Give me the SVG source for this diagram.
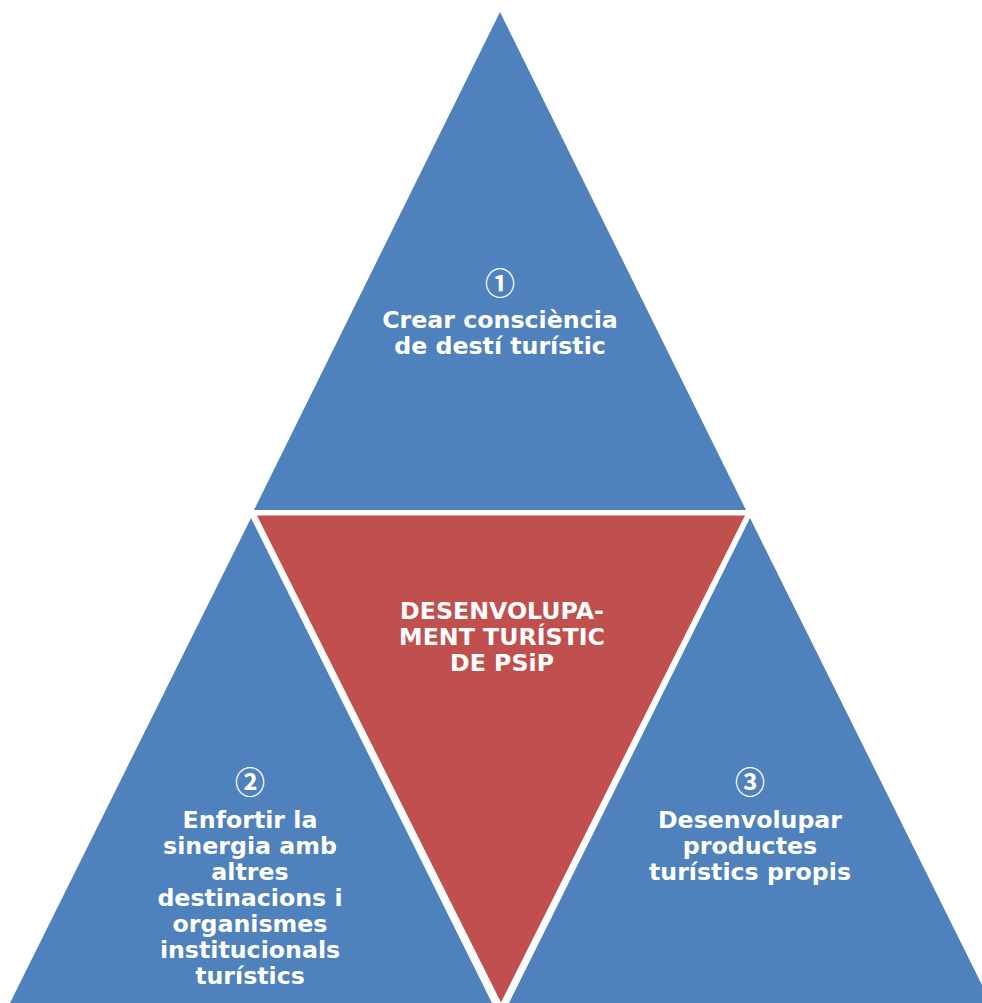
<svg xmlns="http://www.w3.org/2000/svg" width="982" height="1003" viewBox="0 0 982 1003">
<style>
.blue{fill:#4F81BD}
.red{fill:#C0504D;stroke:#fff;stroke-width:5;stroke-linejoin:miter}
.t{font-family:"DejaVu Sans","Liberation Sans",sans-serif;font-weight:bold;font-size:23.7px;fill:#fff;text-anchor:middle}
.n{font-family:"Noto Sans CJK SC","DejaVu Sans",sans-serif;font-weight:bold;font-size:30px;fill:#fff;text-anchor:middle}
</style>
<rect width="982" height="1003" fill="#fff"/>
<g id="top">
<polygon class="blue" points="500,12 254,510 746,510"/>
<text class="n" x="500" y="294">①</text>
<text class="t" x="500" y="328">Crear consciència</text>
<text class="t" x="500" y="354">de destí turístic</text>
</g>
<g id="left">
<polygon class="blue" points="251,518 10,1003 492,1003"/>
<text class="n" x="250" y="793">②</text>
<text class="t" x="250" y="828">Enfortir la</text>
<text class="t" x="250" y="854">sinergia amb</text>
<text class="t" x="250" y="880">altres</text>
<text class="t" x="250" y="906">destinacions i</text>
<text class="t" x="250" y="932">organismes</text>
<text class="t" x="250" y="958">institucionals</text>
<text class="t" x="250" y="984">turístics</text>
</g>
<g id="right">
<polygon class="blue" points="750,518 509,1003 991,1003"/>
<text class="n" x="750" y="793">③</text>
<text class="t" x="750" y="828">Desenvolupar</text>
<text class="t" x="750" y="854">productes</text>
<text class="t" x="750" y="880">turístics propis</text>
</g>
<g id="center">
<polygon class="red" points="253,513 749,513 501,1008"/>
<text class="t" x="502" y="619">DESENVOLUPA-</text>
<text class="t" x="502" y="645">MENT TURÍSTIC</text>
<text class="t" x="502" y="671">DE PSiP</text>
</g>
<g id="connectors"/>
</svg>
